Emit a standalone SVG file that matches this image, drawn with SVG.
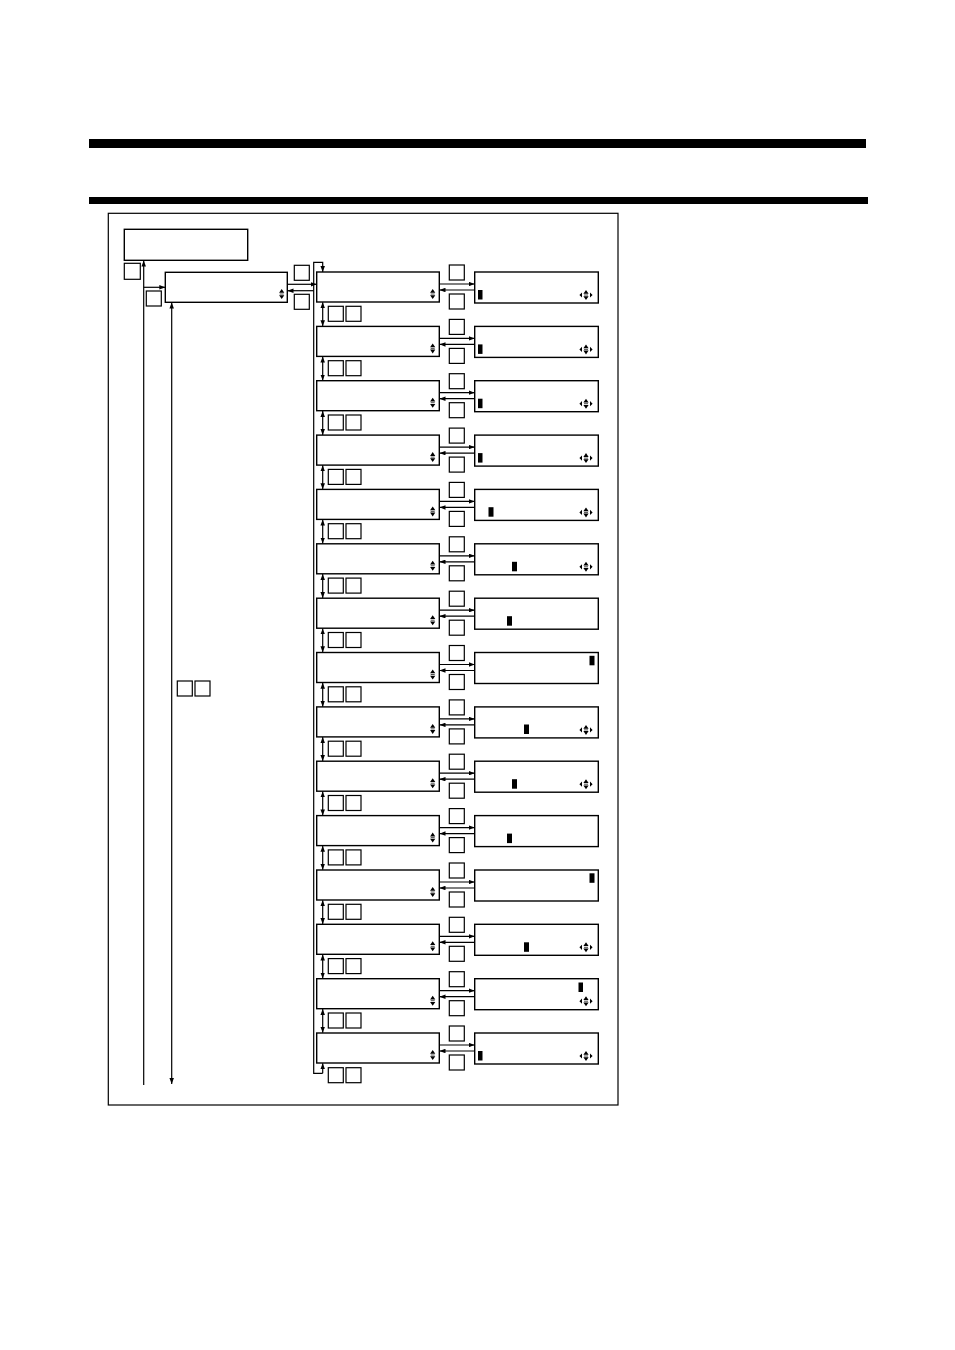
<svg xmlns="http://www.w3.org/2000/svg" width="955" height="1350" viewBox="0 0 955 1350">
<style>
.box{fill:#fff;stroke:#000;stroke-width:1.4}
.key{fill:#fff;stroke:#000;stroke-width:1.2}
.frame{fill:none;stroke:#000;stroke-width:1.2}
.bar{fill:#000}
.cur{fill:#000}
.ln{fill:none;stroke:#000;stroke-width:1.2}
.a{marker-end:url(#ah)}
.aa{marker-end:url(#ah);marker-start:url(#ah)}
</style>
<defs>
<marker id="ah" viewBox="0 0 8 6" refX="8" refY="3" markerWidth="6" markerHeight="4.5" markerUnits="userSpaceOnUse" orient="auto-start-reverse">
<path d="M0,0 L8,3 L0,6 z" fill="#000"/>
</marker>
<g id="ud">
<path d="M-2.6,-1.2 L2.6,-1.2 L0,-5 z M-2.6,1.2 L2.6,1.2 L0,5 z" fill="#000"/>
<line x1="-2" y1="0" x2="2" y2="0" stroke="#000" stroke-width="0.7"/>
</g>
<g id="fw">
<use href="#ud"/>
<path d="M-6.6,0 L-4,-2.6 L-4,2.6 z M6.6,0 L4,-2.6 L4,2.6 z" fill="#000"/>
</g>
</defs>

<rect class="bar" x="89" y="139" width="777" height="9"/>
<rect class="bar" x="89" y="197" width="779" height="7"/>
<rect class="frame" x="108.3" y="213.3" width="509.7" height="891.7"/>

<g id="title"><rect class="box" x="124.3" y="229.3" width="123.4" height="31"/></g>
<g id="key-exit"><rect class="key" x="124.3" y="263.3" width="16" height="16"/></g>
<g id="key-enter"><rect class="key" x="146.3" y="291" width="15" height="15"/></g>
<g id="menu-top"><rect class="box" x="165.3" y="272.3" width="122" height="30"/><use href="#ud" x="281.7" y="294"/></g>
<g id="key-top-a"><rect class="key" x="294.3" y="265.3" width="15" height="15"/></g>
<g id="key-top-b"><rect class="key" x="294.3" y="294.3" width="15" height="15"/></g>
<g id="key-left-pair"><rect class="key" x="177.3" y="681" width="15" height="15"/><rect class="key" x="195" y="681" width="15" height="15"/></g>

<g id="menu-0"><rect class="box" x="316.7" y="272" width="122.6" height="30"/><use href="#ud" x="432.7" y="294"/></g>
<g id="key-0-a"><rect class="key" x="449.3" y="265" width="15" height="15"/></g>
<g id="key-0-b"><rect class="key" x="449.3" y="294" width="15" height="15"/></g>
<g id="edit-0"><rect class="box" x="474.7" y="272" width="123.6" height="31"/><rect class="cur" x="478" y="290" width="4.5" height="9.5"/><use href="#fw" x="586" y="295"/></g>
<g id="nav-0"><rect class="key" x="328.3" y="306.3" width="15" height="15"/><rect class="key" x="346" y="306.3" width="15" height="15"/></g>

<g id="menu-1"><rect class="box" x="316.7" y="326.4" width="122.6" height="30"/><use href="#ud" x="432.7" y="348.4"/></g>
<g id="key-1-a"><rect class="key" x="449.3" y="319.4" width="15" height="15"/></g>
<g id="key-1-b"><rect class="key" x="449.3" y="348.4" width="15" height="15"/></g>
<g id="edit-1"><rect class="box" x="474.7" y="326.4" width="123.6" height="31"/><rect class="cur" x="478" y="344.4" width="4.5" height="9.5"/><use href="#fw" x="586" y="349.4"/></g>
<g id="nav-1"><rect class="key" x="328.3" y="360.7" width="15" height="15"/><rect class="key" x="346" y="360.7" width="15" height="15"/></g>

<g id="menu-2"><rect class="box" x="316.7" y="380.7" width="122.6" height="30"/><use href="#ud" x="432.7" y="402.7"/></g>
<g id="key-2-a"><rect class="key" x="449.3" y="373.7" width="15" height="15"/></g>
<g id="key-2-b"><rect class="key" x="449.3" y="402.7" width="15" height="15"/></g>
<g id="edit-2"><rect class="box" x="474.7" y="380.7" width="123.6" height="31"/><rect class="cur" x="478" y="398.7" width="4.5" height="9.5"/><use href="#fw" x="586" y="403.7"/></g>
<g id="nav-2"><rect class="key" x="328.3" y="415" width="15" height="15"/><rect class="key" x="346" y="415" width="15" height="15"/></g>

<g id="menu-3"><rect class="box" x="316.7" y="435.1" width="122.6" height="30"/><use href="#ud" x="432.7" y="457.1"/></g>
<g id="key-3-a"><rect class="key" x="449.3" y="428.1" width="15" height="15"/></g>
<g id="key-3-b"><rect class="key" x="449.3" y="457.1" width="15" height="15"/></g>
<g id="edit-3"><rect class="box" x="474.7" y="435.1" width="123.6" height="31"/><rect class="cur" x="478" y="453.1" width="4.5" height="9.5"/><use href="#fw" x="586" y="458.1"/></g>
<g id="nav-3"><rect class="key" x="328.3" y="469.4" width="15" height="15"/><rect class="key" x="346" y="469.4" width="15" height="15"/></g>

<g id="menu-4"><rect class="box" x="316.7" y="489.4" width="122.6" height="30"/><use href="#ud" x="432.7" y="511.4"/></g>
<g id="key-4-a"><rect class="key" x="449.3" y="482.4" width="15" height="15"/></g>
<g id="key-4-b"><rect class="key" x="449.3" y="511.4" width="15" height="15"/></g>
<g id="edit-4"><rect class="box" x="474.7" y="489.4" width="123.6" height="31"/><rect class="cur" x="488.5" y="507.2" width="5" height="9.5"/><use href="#fw" x="586" y="512.4"/></g>
<g id="nav-4"><rect class="key" x="328.3" y="523.7" width="15" height="15"/><rect class="key" x="346" y="523.7" width="15" height="15"/></g>

<g id="menu-5"><rect class="box" x="316.7" y="543.8" width="122.6" height="30"/><use href="#ud" x="432.7" y="565.8"/></g>
<g id="key-5-a"><rect class="key" x="449.3" y="536.8" width="15" height="15"/></g>
<g id="key-5-b"><rect class="key" x="449.3" y="565.8" width="15" height="15"/></g>
<g id="edit-5"><rect class="box" x="474.7" y="543.8" width="123.6" height="31"/><rect class="cur" x="512" y="561.8" width="5" height="9.5"/><use href="#fw" x="586" y="566.8"/></g>
<g id="nav-5"><rect class="key" x="328.3" y="578.1" width="15" height="15"/><rect class="key" x="346" y="578.1" width="15" height="15"/></g>

<g id="menu-6"><rect class="box" x="316.7" y="598.2" width="122.6" height="30"/><use href="#ud" x="432.7" y="620.2"/></g>
<g id="key-6-a"><rect class="key" x="449.3" y="591.2" width="15" height="15"/></g>
<g id="key-6-b"><rect class="key" x="449.3" y="620.2" width="15" height="15"/></g>
<g id="edit-6"><rect class="box" x="474.7" y="598.2" width="123.6" height="31"/><rect class="cur" x="507" y="616.2" width="5" height="9.5"/></g>
<g id="nav-6"><rect class="key" x="328.3" y="632.5" width="15" height="15"/><rect class="key" x="346" y="632.5" width="15" height="15"/></g>

<g id="menu-7"><rect class="box" x="316.7" y="652.5" width="122.6" height="30"/><use href="#ud" x="432.7" y="674.5"/></g>
<g id="key-7-a"><rect class="key" x="449.3" y="645.5" width="15" height="15"/></g>
<g id="key-7-b"><rect class="key" x="449.3" y="674.5" width="15" height="15"/></g>
<g id="edit-7"><rect class="box" x="474.7" y="652.5" width="123.6" height="31"/><rect class="cur" x="589.5" y="655.8" width="5" height="9.5"/></g>
<g id="nav-7"><rect class="key" x="328.3" y="686.8" width="15" height="15"/><rect class="key" x="346" y="686.8" width="15" height="15"/></g>

<g id="menu-8"><rect class="box" x="316.7" y="706.9" width="122.6" height="30"/><use href="#ud" x="432.7" y="728.9"/></g>
<g id="key-8-a"><rect class="key" x="449.3" y="699.9" width="15" height="15"/></g>
<g id="key-8-b"><rect class="key" x="449.3" y="728.9" width="15" height="15"/></g>
<g id="edit-8"><rect class="box" x="474.7" y="706.9" width="123.6" height="31"/><rect class="cur" x="524" y="724.5" width="5" height="9.5"/><use href="#fw" x="586" y="729.9"/></g>
<g id="nav-8"><rect class="key" x="328.3" y="741.2" width="15" height="15"/><rect class="key" x="346" y="741.2" width="15" height="15"/></g>

<g id="menu-9"><rect class="box" x="316.7" y="761.2" width="122.6" height="30"/><use href="#ud" x="432.7" y="783.2"/></g>
<g id="key-9-a"><rect class="key" x="449.3" y="754.2" width="15" height="15"/></g>
<g id="key-9-b"><rect class="key" x="449.3" y="783.2" width="15" height="15"/></g>
<g id="edit-9"><rect class="box" x="474.7" y="761.2" width="123.6" height="31"/><rect class="cur" x="512" y="779.2" width="5" height="9.5"/><use href="#fw" x="586" y="784.2"/></g>
<g id="nav-9"><rect class="key" x="328.3" y="795.5" width="15" height="15"/><rect class="key" x="346" y="795.5" width="15" height="15"/></g>

<g id="menu-10"><rect class="box" x="316.7" y="815.6" width="122.6" height="30"/><use href="#ud" x="432.7" y="837.6"/></g>
<g id="key-10-a"><rect class="key" x="449.3" y="808.6" width="15" height="15"/></g>
<g id="key-10-b"><rect class="key" x="449.3" y="837.6" width="15" height="15"/></g>
<g id="edit-10"><rect class="box" x="474.7" y="815.6" width="123.6" height="31"/><rect class="cur" x="507" y="833.6" width="5" height="9.5"/></g>
<g id="nav-10"><rect class="key" x="328.3" y="849.9" width="15" height="15"/><rect class="key" x="346" y="849.9" width="15" height="15"/></g>

<g id="menu-11"><rect class="box" x="316.7" y="870" width="122.6" height="30"/><use href="#ud" x="432.7" y="892"/></g>
<g id="key-11-a"><rect class="key" x="449.3" y="863" width="15" height="15"/></g>
<g id="key-11-b"><rect class="key" x="449.3" y="892" width="15" height="15"/></g>
<g id="edit-11"><rect class="box" x="474.7" y="870" width="123.6" height="31"/><rect class="cur" x="589.5" y="873.3" width="5" height="9.5"/></g>
<g id="nav-11"><rect class="key" x="328.3" y="904.3" width="15" height="15"/><rect class="key" x="346" y="904.3" width="15" height="15"/></g>

<g id="menu-12"><rect class="box" x="316.7" y="924.3" width="122.6" height="30"/><use href="#ud" x="432.7" y="946.3"/></g>
<g id="key-12-a"><rect class="key" x="449.3" y="917.3" width="15" height="15"/></g>
<g id="key-12-b"><rect class="key" x="449.3" y="946.3" width="15" height="15"/></g>
<g id="edit-12"><rect class="box" x="474.7" y="924.3" width="123.6" height="31"/><rect class="cur" x="524" y="942.3" width="5" height="9.5"/><use href="#fw" x="586" y="947.3"/></g>
<g id="nav-12"><rect class="key" x="328.3" y="958.6" width="15" height="15"/><rect class="key" x="346" y="958.6" width="15" height="15"/></g>

<g id="menu-13"><rect class="box" x="316.7" y="978.7" width="122.6" height="30"/><use href="#ud" x="432.7" y="1000.7"/></g>
<g id="key-13-a"><rect class="key" x="449.3" y="971.7" width="15" height="15"/></g>
<g id="key-13-b"><rect class="key" x="449.3" y="1000.7" width="15" height="15"/></g>
<g id="edit-13"><rect class="box" x="474.7" y="978.7" width="123.6" height="31"/><rect class="cur" x="578.5" y="982.5" width="4.5" height="9.5"/><use href="#fw" x="586" y="1001.2"/></g>
<g id="nav-13"><rect class="key" x="328.3" y="1013" width="15" height="15"/><rect class="key" x="346" y="1013" width="15" height="15"/></g>

<g id="menu-14"><rect class="box" x="316.7" y="1033" width="122.6" height="30"/><use href="#ud" x="432.7" y="1055"/></g>
<g id="key-14-a"><rect class="key" x="449.3" y="1026" width="15" height="15"/></g>
<g id="key-14-b"><rect class="key" x="449.3" y="1055" width="15" height="15"/></g>
<g id="edit-14"><rect class="box" x="474.7" y="1033" width="123.6" height="31"/><rect class="cur" x="478" y="1051" width="4.5" height="9.5"/><use href="#fw" x="586" y="1056"/></g>
<g id="nav-14"><rect class="key" x="328.3" y="1067.7" width="15" height="15"/><rect class="key" x="346" y="1067.7" width="15" height="15"/></g>

<g id="connectors">
<path class="ln a" d="M143.7,1085 V260.5"/>
<path class="ln a" d="M143.7,287.3 H165.3"/>
<path class="ln aa" d="M171.7,1084 V302.5"/>
<path class="ln a" d="M287.3,284.3 H316.7"/>
<path class="ln a" d="M313.7,290.7 H287.5"/>
<path class="ln a" d="M322.7,1073.3 H313.7 V262.3 H322.7 V272"/>
<path class="ln a" d="M322.7,1073.3 V1063.2"/>

<path class="ln a" d="M439.3,284 H474.7"/><path class="ln a" d="M474.7,290 H439.5"/><path class="ln aa" d="M322.7,302.2 V326.2"/>
<path class="ln a" d="M439.3,338.4 H474.7"/><path class="ln a" d="M474.7,344.4 H439.5"/><path class="ln aa" d="M322.7,356.6 V380.5"/>
<path class="ln a" d="M439.3,392.7 H474.7"/><path class="ln a" d="M474.7,398.7 H439.5"/><path class="ln aa" d="M322.7,410.9 V434.9"/>
<path class="ln a" d="M439.3,447.1 H474.7"/><path class="ln a" d="M474.7,453.1 H439.5"/><path class="ln aa" d="M322.7,465.3 V489.2"/>
<path class="ln a" d="M439.3,501.4 H474.7"/><path class="ln a" d="M474.7,507.4 H439.5"/><path class="ln aa" d="M322.7,519.6 V543.6"/>
<path class="ln a" d="M439.3,555.8 H474.7"/><path class="ln a" d="M474.7,561.8 H439.5"/><path class="ln aa" d="M322.7,574 V598"/>
<path class="ln a" d="M439.3,610.2 H474.7"/><path class="ln a" d="M474.7,616.2 H439.5"/><path class="ln aa" d="M322.7,628.4 V652.3"/>
<path class="ln a" d="M439.3,664.5 H474.7"/><path class="ln a" d="M474.7,670.5 H439.5"/><path class="ln aa" d="M322.7,682.7 V706.7"/>
<path class="ln a" d="M439.3,718.9 H474.7"/><path class="ln a" d="M474.7,724.9 H439.5"/><path class="ln aa" d="M322.7,737.1 V761"/>
<path class="ln a" d="M439.3,773.2 H474.7"/><path class="ln a" d="M474.7,779.2 H439.5"/><path class="ln aa" d="M322.7,791.4 V815.4"/>
<path class="ln a" d="M439.3,827.6 H474.7"/><path class="ln a" d="M474.7,833.6 H439.5"/><path class="ln aa" d="M322.7,845.8 V869.8"/>
<path class="ln a" d="M439.3,882 H474.7"/><path class="ln a" d="M474.7,888 H439.5"/><path class="ln aa" d="M322.7,900.2 V924.1"/>
<path class="ln a" d="M439.3,936.3 H474.7"/><path class="ln a" d="M474.7,942.3 H439.5"/><path class="ln aa" d="M322.7,954.5 V978.5"/>
<path class="ln a" d="M439.3,990.7 H474.7"/><path class="ln a" d="M474.7,996.7 H439.5"/><path class="ln aa" d="M322.7,1008.9 V1032.8"/>
<path class="ln a" d="M439.3,1045 H474.7"/><path class="ln a" d="M474.7,1051 H439.5"/>
</g>
</svg>
